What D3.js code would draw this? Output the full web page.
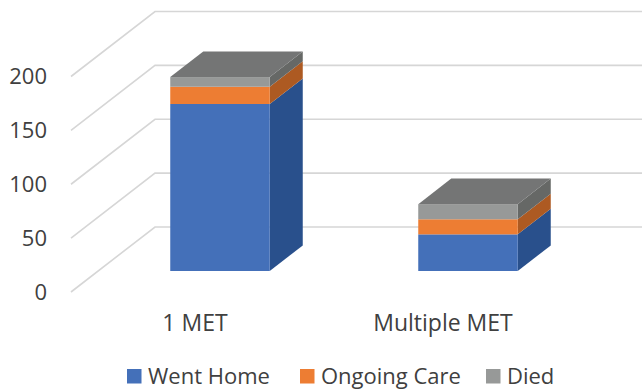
<!DOCTYPE html>
<html>
<head>
<meta charset="utf-8">
<script src="https://cdn.jsdelivr.net/npm/d3@7/dist/d3.min.js"></script>
<style>
  html, body { margin: 0; padding: 0; background: #fff; }
  text { font-family: "Open Sans", sans-serif; fill: #404040; }
</style>
</head>
<body>
<svg id="chart" width="642" height="390"></svg>
<script>
// Patient outcomes by number of MET calls
const categories = ["1 MET", "Multiple MET"];
const seriesNames = ["Went Home", "Ongoing Care", "Died"];
const wentHome = [155, 34];
const ongoingCare = [16, 14];
const died = [9, 14];
const yTicks = [0, 50, 100, 150, 200];

const frontColors = ["#4470b9", "#ed7d33", "#979998"];
const sideColors = ["#29508c", "#ad5a22", "#666866"];
const topColor = "#747575";

const svg = d3.select("#chart");

// Oblique projection: the floor runs back from the axis plane to the wall
const wallDx = 84, wallDy = -65;
const barDepthDx = 33, barDepthDy = -25.6;
const floorY = 292;

const x = d3.scaleBand().domain(categories).range([71, 567]);
const y = d3.scaleLinear().domain([0, 200]).range([0, -215.5]);
const barWidth = 99.5;
const barShiftX = 25;
const barBaseLift = 21;

// Gridlines fold from the left edge onto the back wall
const grid = svg.append("g");
grid.selectAll("path").data(yTicks).join("path")
  .attr("fill", "none")
  .attr("stroke", "#d6d6d6")
  .attr("stroke-width", 1.6)
  .attr("d", d => {
    const y0 = floorY + y(d);
    return d3.line()([[71, y0], [71 + wallDx, y0 + wallDy], [642, y0 + wallDy]]);
  });

// Value axis labels
svg.append("g").selectAll("text").data(yTicks).join("text")
  .attr("x", 47)
  .attr("y", d => floorY + y(d) + 2)
  .attr("text-anchor", "end")
  .attr("dominant-baseline", "middle")
  .attr("font-size", 22)
  .text(d => d);

// Stack the three outcomes for each category
const rows = categories.map((c, i) => ({
  category: c,
  [seriesNames[0]]: wentHome[i],
  [seriesNames[1]]: ongoingCare[i],
  [seriesNames[2]]: died[i]
}));
const stacked = d3.stack().keys(seriesNames)(rows);
const poly = d3.line();

const bars = svg.append("g");
stacked.forEach((layer, s) => {
  layer.forEach(seg => {
    const c = seg.data.category;
    const left = x(c) + x.bandwidth() / 2 + barShiftX - barWidth / 2;
    const right = left + barWidth;
    const base = floorY - barBaseLift;
    const y0 = base + y(seg[0]);
    const y1 = base + y(seg[1]);

    bars.append("path")
      .attr("fill", sideColors[s])
      .attr("d", poly([
        [right, y0], [right + barDepthDx, y0 + barDepthDy],
        [right + barDepthDx, y1 + barDepthDy], [right, y1]
      ]) + "Z");

    bars.append("rect")
      .attr("x", left).attr("y", y1)
      .attr("width", barWidth).attr("height", y0 - y1)
      .attr("fill", frontColors[s]);

    // Only the highest segment shows a top face
    if (s === seriesNames.length - 1) {
      bars.append("path")
        .attr("fill", topColor)
        .attr("d", poly([
          [left, y1], [left + barDepthDx, y1 + barDepthDy],
          [right + barDepthDx, y1 + barDepthDy], [right, y1]
        ]) + "Z");
    }
  });
});

// Category labels
svg.append("g").selectAll("text").data(categories).join("text")
  .attr("x", d => x(d) + x.bandwidth() / 2)
  .attr("y", 331)
  .attr("text-anchor", "middle")
  .attr("font-size", 23)
  .text(d => d);

// Legend
const legendSwatchX = [127, 300, 486];
const legend = svg.append("g").selectAll("g").data(seriesNames).join("g")
  .attr("transform", (d, i) => `translate(${legendSwatchX[i]},369)`);
legend.append("rect")
  .attr("width", 14.5).attr("height", 14.5)
  .attr("fill", (d, i) => frontColors[i]);
legend.append("text")
  .attr("x", 21)
  .attr("y", 14.5)
  .attr("font-size", 22)
  .text(d => d);
</script>
</body>
</html>
